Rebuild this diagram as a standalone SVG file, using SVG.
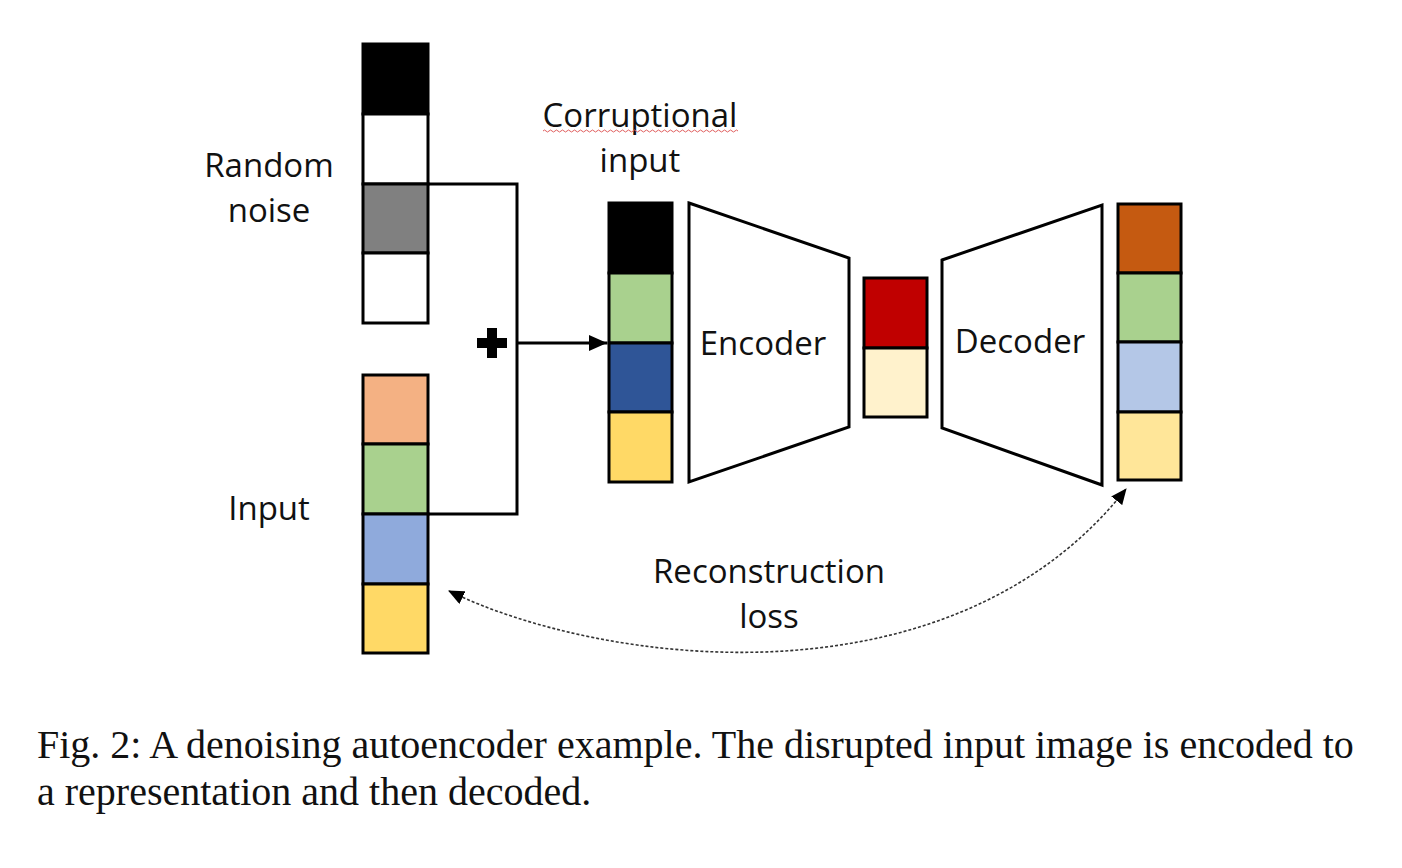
<svg xmlns="http://www.w3.org/2000/svg" width="1402" height="868" viewBox="0 0 1402 868">
  <style>
    .cell { stroke: #000; stroke-width: 3; }
    .shape { fill: #fff; stroke: #000; stroke-width: 3; stroke-linejoin: miter; }
    .wire { fill: none; stroke: #000; stroke-width: 3; }
    .loss { fill: none; stroke: #333; stroke-width: 1.6; stroke-dasharray: 3 2; }
    .lbl { font-family: "Open Sans", "Noto Sans", sans-serif; font-size: 33px; fill: #111; text-anchor: middle; }
    .cap { font-family: "Liberation Serif", "Times New Roman", serif; font-size: 40px; fill: #111; }
  </style>
  <defs>
    <marker id="head" viewBox="0 0 16 14" refX="15" refY="7" markerWidth="16" markerHeight="14" markerUnits="userSpaceOnUse" orient="auto-start-reverse">
      <path d="M0 0 L16 7 L0 14 Z" fill="#000"/>
    </marker>
    <marker id="headBig" viewBox="0 0 18 16" refX="18" refY="8" markerWidth="18" markerHeight="16" markerUnits="userSpaceOnUse" orient="auto-start-reverse">
      <path d="M0 0 L18 8 L0 16 Z" fill="#000"/>
    </marker>
  </defs>
  <rect width="1402" height="868" fill="#fff"/>

  <!-- connectors -->
  <g id="connectors">
    <path class="wire" d="M429 184 H517 V514 H429"/>
    <path class="wire" d="M517 343 H607" marker-end="url(#headBig)"/>
    <path class="loss" d="M449 591 C600 665, 950 712, 1126 489" marker-start="url(#head)" marker-end="url(#head)"/>
  </g>

  <!-- random noise vector -->
  <g id="noise">
    <rect class="cell" x="363" y="44" width="65" height="70" fill="#000"/>
    <rect class="cell" x="363" y="114" width="65" height="70" fill="#fff"/>
    <rect class="cell" x="363" y="184" width="65" height="69" fill="#808080"/>
    <rect class="cell" x="363" y="253" width="65" height="70" fill="#fff"/>
    <text class="lbl" x="269" y="177">Random</text>
    <text class="lbl" x="269" y="222">noise</text>
  </g>

  <!-- clean input vector -->
  <g id="input">
    <rect class="cell" x="363" y="375" width="65" height="69" fill="#F4B183"/>
    <rect class="cell" x="363" y="444" width="65" height="70" fill="#A9D18E"/>
    <rect class="cell" x="363" y="514" width="65" height="70" fill="#8FAADC"/>
    <rect class="cell" x="363" y="584" width="65" height="69" fill="#FFD966"/>
    <text class="lbl" x="269" y="520">Input</text>
  </g>

  <!-- addition sign -->
  <g id="plus">
    <path d="M487 328 H497 V338 H507 V348 H497 V358 H487 V348 H477 V338 H487 Z" fill="#000"/>
  </g>

  <!-- corrupted input vector -->
  <g id="corrupted">
    <rect class="cell" x="609" y="203" width="63" height="70" fill="#000"/>
    <rect class="cell" x="609" y="273" width="63" height="70" fill="#A9D18E"/>
    <rect class="cell" x="609" y="343" width="63" height="69" fill="#2F5597"/>
    <rect class="cell" x="609" y="412" width="63" height="70" fill="#FFD966"/>
    <text class="lbl" x="640" y="127">Corruptional</text>
    <path d="M543 131 q1.5 -2 3 0 t3 0 t3 0 t3 0 t3 0 t3 0 t3 0 t3 0 t3 0 t3 0 t3 0 t3 0 t3 0 t3 0 t3 0 t3 0 t3 0 t3 0 t3 0 t3 0 t3 0 t3 0 t3 0 t3 0 t3 0 t3 0 t3 0 t3 0 t3 0 t3 0 t3 0 t3 0 t3 0 t3 0 t3 0 t3 0 t3 0 t3 0 t3 0 t3 0 t3 0 t3 0 t3 0 t3 0 t3 0 t3 0 t3 0 t3 0 t3 0 t3 0 t3 0 t3 0 t3 0 t3 0 t3 0 t3 0 t3 0 t3 0 t3 0 t3 0 t3 0 t3 0 t3 0 t3 0 t3 0" fill="none" stroke="#E06060" stroke-width="1"/>
    <text class="lbl" x="640" y="172">input</text>
  </g>

  <!-- encoder -->
  <g id="encoder">
    <polygon class="shape" points="689,203 849,258 849,427 689,482"/>
    <text class="lbl" x="763" y="355">Encoder</text>
  </g>

  <!-- latent code -->
  <g id="latent">
    <rect class="cell" x="864" y="278" width="63" height="70" fill="#C00000"/>
    <rect class="cell" x="864" y="348" width="63" height="69" fill="#FFF2CC"/>
  </g>

  <!-- decoder -->
  <g id="decoder">
    <polygon class="shape" points="942,260 1102,205 1102,485 942,428"/>
    <text class="lbl" x="1020" y="353">Decoder</text>
  </g>

  <!-- reconstructed output vector -->
  <g id="output">
    <rect class="cell" x="1118" y="204" width="63" height="69" fill="#C55A11"/>
    <rect class="cell" x="1118" y="273" width="63" height="69" fill="#A9D18E"/>
    <rect class="cell" x="1118" y="342" width="63" height="70" fill="#B4C7E7"/>
    <rect class="cell" x="1118" y="412" width="63" height="68" fill="#FFE699"/>
  </g>

  <!-- loss label -->
  <g id="loss-label">
    <text class="lbl" x="769" y="583">Reconstruction</text>
    <text class="lbl" x="769" y="628">loss</text>
  </g>

  <!-- caption -->
  <g id="caption">
    <text class="cap" x="37" y="758">Fig. 2: A denoising autoencoder example. The disrupted input image is encoded to</text>
    <text class="cap" x="37" y="805">a representation and then decoded.</text>
  </g>
</svg>
